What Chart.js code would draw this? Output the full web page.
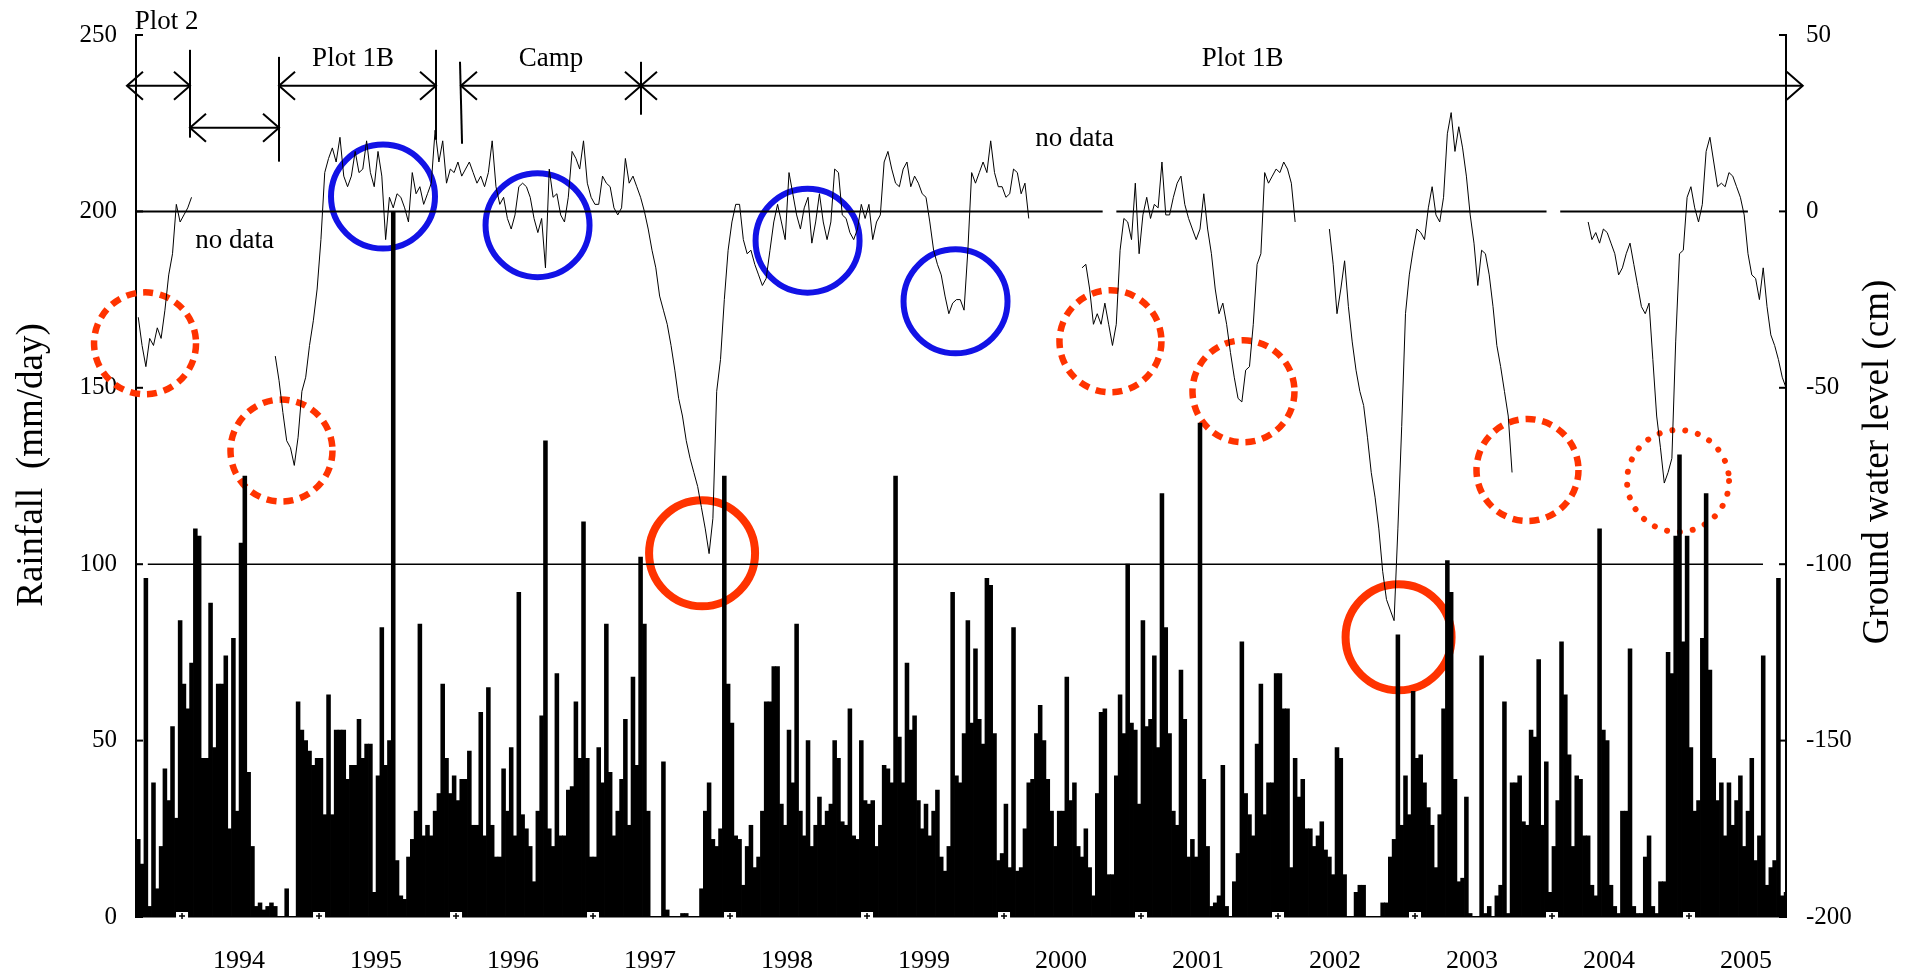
<!DOCTYPE html>
<html><head><meta charset="utf-8">
<script src="https://cdn.jsdelivr.net/npm/chart.js@4.4.1/dist/chart.umd.min.js"></script>
<style>html,body{margin:0;padding:0;background:#fff;}#wrap{width:1912px;height:972px;}</style>
</head><body><div id="wrap"><canvas id="c" width="1912" height="972"></canvas></div>
<script>
// ---------- DATA (decimal-year bins, 36 per year) ----------
const years = [1993,1994,1995,1996,1997,1998,1999,2000,2001,2002,2003,2004,2005];
const firstBin1993 = 24;
const binsPerYear = 36;

// Daily rainfall (mm/day), peak value in each ~10-day bin
const r1993 = [22,15,96,3,38,8,20,42,33,54,28,84];
const r1994 = [66,59,72,110,108,45,45,89,48,66,66,74,25,79,30,106,125,41,20,3,4,2,3,4,3,0,0,8,0,0,61,53,50,47,43,45];
const r1995 = [45,29,63,29,53,53,53,39,43,43,56,45,49,49,7,40,82,43,50,200,16,6,5,17,22,30,83,23,26,23,30,35,66,45,35,40];
const r1996 = [33,39,39,47,26,26,58,23,65,26,17,17,42,30,48,23,92,29,25,20,10,30,57,135,25,20,69,23,23,36,37,61,45,112,45,17];
const r1997 = [17,48,38,83,41,23,30,39,56,26,68,43,102,83,30,0,0,0,44,2,0,0,0,1,1,0,0,0,8,30,38,22,20,25,125,66];
const r1998 = [55,23,22,9,20,26,14,17,30,61,61,71,71,32,26,53,38,83,30,23,50,20,26,34,26,30,32,50,45,27,26,59,23,22,50,33];
const r1999 = [32,33,20,26,43,42,38,125,51,38,72,53,57,33,25,32,23,30,36,17,13,20,92,40,38,52,84,55,76,56,49,96,94,52,16,18];
const r2000 = [32,14,82,13,14,25,38,39,52,60,50,39,30,20,30,30,68,33,38,20,17,25,14,6,35,58,59,12,12,40,63,52,100,55,53,32];
const r2001 = [84,54,56,74,48,120,82,52,30,26,70,56,17,22,17,140,39,20,3,4,6,43,3,0,10,18,78,35,29,23,49,66,29,38,38,69];
const r2002 = [69,59,59,14,45,34,39,25,25,20,23,27,19,17,12,48,45,12,0,0,7,9,9,0,0,0,0,4,4,17,22,80,26,40,29,64];
const r2003 = [45,46,38,31,26,14,29,59,101,92,39,10,11,34,1,0,0,74,1,3,0,6,9,61,1,38,38,40,27,26,53,51,73,26,44,7];
const r2004 = [20,33,78,63,46,20,40,39,23,23,9,6,110,53,50,9,3,1,30,30,76,3,1,1,17,23,3,1,10,10,75,69,108,131,78,108];
const r2005 = [48,30,33,79,120,70,45,33,38,23,38,26,33,40,20,30,45,16,23,74,9,14,16,96,6,7];

// Ground water level (cm), null = no data
const g1993 = [-30,-38,-44,-36,-38,-33,-36,-28,-18,-12,2,-3];
const g1994 = [-1,1,4,null,null,null,null,null,null,null,null,null,null,null,null,null,null,null,null,null,null,null,null,null,-41,-48,-57,-65,-67,-72,-64,-51,-47,-38,-31,-22];
const g1995 = [-8,11,15,18,14,21,10,7,10,17,11,12,20,11,7,17,10,-8,4,1,5,4,1,-3,11,5,7,2,5,8,23,14,20,8,12,11];
const g1996 = [14,10,12,14,11,8,10,7,11,20,7,2,4,-2,-5,-1,7,8,7,4,-2,-6,-2,-16,12,4,5,-1,-3,4,17,15,12,20,8,4];
const g1997 = [2,2,10,8,7,1,-1,1,15,8,10,7,4,0,-5,-11,-16,-24,-28,-32,-38,-45,-53,-58,-65,-70,-74,-78,-84,-90,-97,-87,-51,-42,-25,-11];
const g1998 = [-3,2,2,-8,-12,-11,-15,-18,-21,-19,-11,-3,2,-3,-8,11,5,-1,-5,1,4,-9,-3,5,-3,-8,-3,12,11,-1,-2,-6,-8,-5,2,-2];
const g1999 = [2,-8,-3,-1,14,17,12,8,7,12,14,7,10,8,5,4,-3,-11,-15,-18,-24,-29,-26,-25,-25,-28,-11,11,8,11,14,11,20,11,7,7];
const g2000 = [4,5,12,11,5,8,-2,null,null,null,null,null,null,null,null,null,null,null,null,null,-16,-15,-22,-32,-29,-32,-26,-32,-38,-32,-11,-2,-3,-8,8,-12];
const g2001 = [-1,4,-2,2,1,14,-1,-1,4,8,10,2,-2,-5,-8,-5,5,-5,-12,-22,-29,-26,-32,-40,-47,-53,-54,-45,-44,-32,-15,-12,11,8,10,12];
const g2002 = [11,14,12,8,-3,null,null,null,null,null,null,null,null,-5,-15,-29,-22,-14,-27,-37,-45,-51,-55,-64,-74,-81,-90,-102,-110,-113,-116,-90,-61,-29,-18,-11];
const g2003 = [-5,-6,-8,1,7,-1,-3,4,22,28,17,24,18,10,-1,-9,-21,-11,-12,-18,-27,-38,-44,-51,-58,-74,null,null,null,null,null,null,null,null,null,null];
const g2004 = [null,null,null,null,null,null,null,null,null,-3,-8,-6,-9,-5,-6,-9,-12,-18,-16,-12,-9,-15,-21,-27,-29,-26,-42,-58,-67,-77,-74,-70,-37,-12,-11,4];
const g2005 = [7,1,-3,2,17,21,14,7,8,7,11,10,7,4,-1,-12,-18,-19,-25,-16,-27,-35,-38,-42,-47,-50];

const rainSeries = [r1993,r1994,r1995,r1996,r1997,r1998,r1999,r2000,r2001,r2002,r2003,r2004,r2005];
const gwSeries = [g1993,g1994,g1995,g1996,g1997,g1998,g1999,g2000,g2001,g2002,g2003,g2004,g2005];

const yearTicks = [1994,1995,1996,1997,1998,1999,2000,2001,2002,2003,2004,2005];
const xMin = 1993.664, xMax = 2005.708;

// reference lines on ground-water axis
const zeroSpans = [[1993.664,2000.72],[2000.82,2003.96],[2004.06,2005.43]];
const lowRefSpan = [1993.75,2005.54];
const lowRefLevel = -100;

// annotations (x in years, y in rainfall units)
const circles = [
 {x:1995.467,y:204.2,kind:'blue'},{x:1996.595,y:196.1,kind:'blue'},{x:1998.566,y:191.7,kind:'blue'},{x:1999.646,y:174.5,kind:'blue'},
 {x:1997.796,y:103.1,kind:'red'},{x:2002.880,y:79.3,kind:'red'},
 {x:1993.730,y:162.6,kind:'dash'},{x:1994.726,y:132.2,kind:'dash'},{x:2000.777,y:163.2,kind:'dash'},{x:2001.748,y:149.0,kind:'dash'},{x:2003.821,y:126.7,kind:'dash'},
 {x:2004.920,y:123.6,kind:'dot'}
];
const arrows = [
 {a:1993.598,b:1994.058,y:235.6},{a:1994.058,b:1994.708,y:223.7},{a:1994.708,b:1995.854,y:235.6},
 {a:1996.036,b:1997.350,y:235.6},{a:1997.350,b:2005.830,y:235.6}
];
const bars = [
 {x1:1994.058,x2:1994.058,y1:245.8,y2:220.9},{x1:1994.708,x2:1994.708,y1:243.8,y2:214.1},
 {x1:1995.854,x2:1995.854,y1:245.8,y2:220.3},{x1:1996.029,x2:1996.044,y1:242.4,y2:219.2},
 {x1:1997.350,x2:1997.350,y1:242.4,y2:227.4}
];
const labels = [
 {t:'Plot 2',x:1993.887,y:251.8},{t:'Plot 1B',x:1995.248,y:241.1},{t:'Camp',x:1996.693,y:241.1},
 {t:'Plot 1B',x:2001.742,y:241.1},{t:'no data',x:1994.383,y:189.6},{t:'no data',x:2000.515,y:218.5}
];

// ---------- build points ----------
function build(series){
  const pts=[];
  series.forEach((arr,i)=>{
    const yr=years[i]; const off = yr===1993?firstBin1993:0;
    arr.forEach((v,k)=>pts.push({x: yr+(off+k+0.5)/binsPerYear, y: v}));
  });
  return pts;
}
const rainPts = build(rainSeries);
const gwPts = build(gwSeries);
const zeroPts = [];
zeroSpans.forEach(([a,b])=>{zeroPts.push({x:a,y:0},{x:b,y:0},{x:b,y:null});});
const lowPts = [{x:lowRefSpan[0],y:lowRefLevel},{x:lowRefSpan[1],y:lowRefLevel}];

const FONT = "'Liberation Serif','Times New Roman',serif";
const circleStyle = {
  blue:{c:'#1212e6',w:6,dash:[],cap:'butt',r:52},
  red:{c:'#ff3300',w:8,dash:[],cap:'butt',r:53},
  dash:{c:'#ff3300',w:6.5,dash:[10,7],cap:'butt',r:51},
  dot:{c:'#ff3300',w:6,dash:[0.01,13],cap:'round',r:51}
};

const annot = {
  id:'annot',
  beforeDatasetsDraw(chart){
    const {ctx,scales:{x,y}}=chart;
    ctx.save();
    circles.forEach(c=>{
      const s=circleStyle[c.kind];
      ctx.beginPath();
      ctx.arc(x.getPixelForValue(c.x),y.getPixelForValue(c.y),s.r,0,Math.PI*2);
      ctx.strokeStyle=s.c;ctx.lineWidth=s.w;ctx.setLineDash(s.dash);ctx.lineCap=s.cap;
      ctx.stroke();
    });
    ctx.restore();
  },
  afterDatasetsDraw(chart){
    const {ctx,scales:{x,y,y2},chartArea:ca}=chart;
    ctx.save();
    ctx.strokeStyle='#000';ctx.fillStyle='#000';ctx.lineWidth=2;ctx.setLineDash([]);ctx.lineCap='butt';
    const head=(tx,ty,dir)=>{ctx.beginPath();ctx.moveTo(tx-dir*16,ty-14);ctx.lineTo(tx,ty);ctx.lineTo(tx-dir*16,ty+14);ctx.stroke();};
    arrows.forEach(a=>{
      const xa=x.getPixelForValue(a.a),xb=x.getPixelForValue(a.b),py=y.getPixelForValue(a.y);
      ctx.beginPath();ctx.moveTo(xa,py);ctx.lineTo(xb,py);ctx.stroke();
      head(xa,py,-1);head(xb,py,1);
    });
    bars.forEach(b=>{
      ctx.beginPath();ctx.moveTo(x.getPixelForValue(b.x1),y.getPixelForValue(b.y1));
      ctx.lineTo(x.getPixelForValue(b.x2),y.getPixelForValue(b.y2));ctx.stroke();
    });
    ctx.font='27px '+FONT;ctx.textAlign='center';ctx.textBaseline='alphabetic';
    labels.forEach(l=>ctx.fillText(l.t,x.getPixelForValue(l.x),y.getPixelForValue(l.y)));
    // inward ticks
    ctx.lineWidth=2;
    y.ticks.forEach(t=>{const p=y.getPixelForValue(t.value);ctx.beginPath();ctx.moveTo(ca.left,p);ctx.lineTo(ca.left+7,p);ctx.stroke();});
    y2.ticks.forEach(t=>{const p=y2.getPixelForValue(t.value);ctx.beginPath();ctx.moveTo(ca.right-7,p);ctx.lineTo(ca.right,p);ctx.stroke();});
    // year tick marks on baseline
    ctx.lineWidth=1.5;
    x.ticks.forEach(t=>{
      const p=x.getPixelForValue(t.value);
      ctx.fillStyle='#fff';ctx.fillRect(p-6,ca.bottom-5,12,8);
      ctx.beginPath();ctx.moveTo(p-3,ca.bottom-1);ctx.lineTo(p+3,ca.bottom-1);ctx.moveTo(p,ca.bottom-4);ctx.lineTo(p,ca.bottom+2);ctx.stroke();
    });
    // axis titles
    ctx.fillStyle='#000';ctx.font='37px '+FONT;ctx.textAlign='center';ctx.textBaseline='alphabetic';
    ctx.save();ctx.translate(42,465);ctx.rotate(-Math.PI/2);ctx.fillText('Rainfall  (mm/day)',0,0);ctx.restore();
    ctx.save();ctx.translate(1888,462);ctx.rotate(-Math.PI/2);ctx.fillText('Ground water level (cm)',0,0);ctx.restore();
    ctx.restore();
  }
};

new Chart(document.getElementById('c'),{
  type:'bar',
  data:{datasets:[
    {type:'line',label:'Ground water level',data:gwPts,yAxisID:'y2',borderColor:'#000',borderWidth:1,pointRadius:0,spanGaps:false,tension:0,order:0},
    {type:'line',label:'zero',data:zeroPts,yAxisID:'y2',borderColor:'#000',borderWidth:2,pointRadius:0,spanGaps:false,order:1},
    {type:'line',label:'-100',data:lowPts,yAxisID:'y2',borderColor:'#000',borderWidth:1.6,pointRadius:0,order:1},
    {type:'bar',label:'Rainfall',data:rainPts,yAxisID:'y',backgroundColor:'#000',borderWidth:0,barThickness:3.9,grouped:false,order:2}
  ]},
  options:{
    responsive:false,animation:false,
    layout:{padding:{top:33,left:0,right:0,bottom:0}},
    plugins:{legend:{display:false},tooltip:{enabled:false}},
    scales:{
      x:{type:'linear',min:xMin,max:xMax,offset:false,
        grid:{display:false,drawTicks:false},
        border:{display:true,color:'#000',width:1.5},
        afterBuildTicks:s=>{s.ticks=yearTicks.map(v=>({value:v}));},
        afterFit:s=>{s.height=55;},
        ticks:{autoSkip:false,maxRotation:0,labelOffset:57,padding:29,color:'#000',font:{family:FONT,size:26},callback:v=>String(v)}},
      y:{type:'linear',position:'left',min:0,max:250,
        grid:{display:false,drawTicks:false},
        border:{display:true,color:'#000',width:2},
        afterFit:s=>{s.width=136;},
        ticks:{stepSize:50,padding:19,color:'#000',font:{family:FONT,size:25}}},
      y2:{type:'linear',position:'right',min:-200,max:50,
        grid:{display:false,drawTicks:false},
        border:{display:true,color:'#000',width:2},
        afterFit:s=>{s.width=126;},
        ticks:{stepSize:50,padding:20,color:'#000',font:{family:FONT,size:25}}}
    }
  },
  plugins:[annot]
});
</script></body></html>
